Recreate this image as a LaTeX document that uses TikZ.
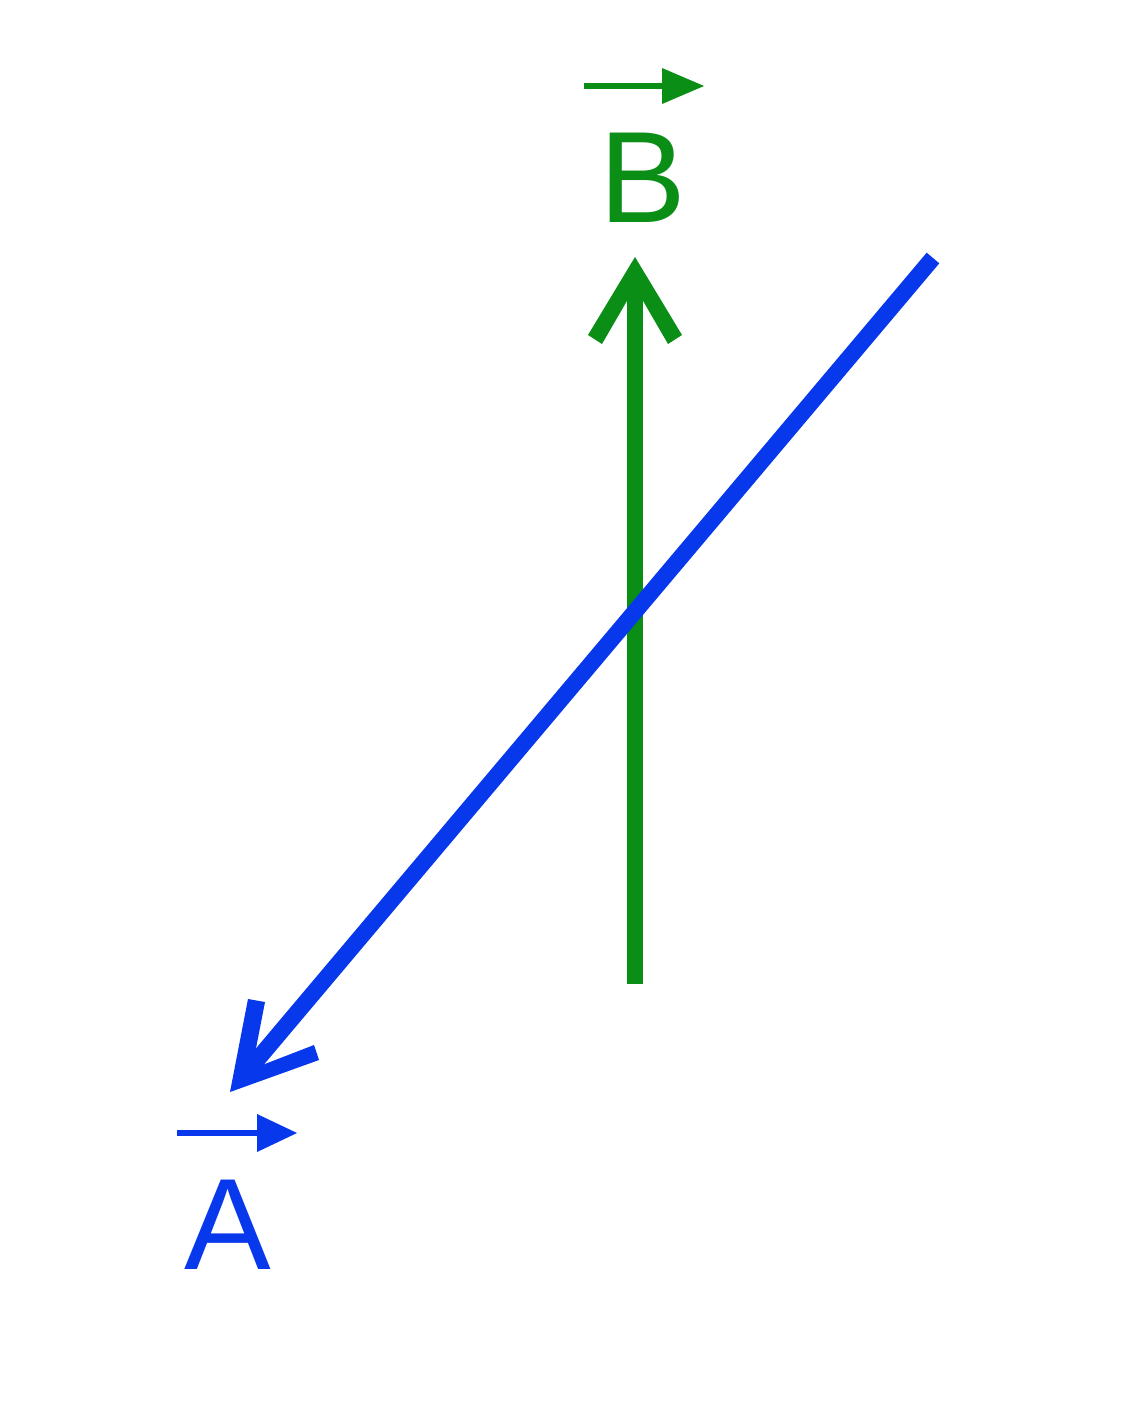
\documentclass[tikz,border=0pt]{standalone}
\usepackage{fontspec}
\setmainfont{Liberation Sans}
\definecolor{vgreen}{RGB}{10,142,22}
\definecolor{vblue}{RGB}{8,56,236}
\begin{document}
\begin{tikzpicture}[x=1pt,y=-1pt,
  lbl/.style={inner sep=0pt,font=\fontsize{130}{150}\selectfont},
  shaft/.style={line width=16.5pt,line cap=butt}]
\useasboundingbox (0,0) rectangle (1122,1402);
% green vector B
\coordinate (gbot) at (635,984);
\coordinate (gtip) at (635,257);
\coordinate (gnotch) at (635,282);
\draw[shaft,vgreen] (gbot) -- (gnotch);
\fill[vgreen] (gtip) -- (682,335) -- (668,344) -- (635,287) -- (602,344) -- (588,335) -- cycle;
% blue vector A
\coordinate (btop) at (933,258);
\coordinate (btip) at (230,1092);
\coordinate (bnotch) at (246,1073);
\draw[shaft,vblue] (btop) -- (bnotch);
\fill[vblue] (btip) -- (248,999) -- (265,1002) -- (252,1069) -- (314,1045) -- (319,1060) -- cycle;
% labels
\node[lbl,text=vgreen,anchor=base] (B) at (643,222) {B};
\node[lbl,text=vblue,anchor=base] (A) at (228,1269) {A};
% over-arrows
\coordinate (Bs) at (584,86);
\coordinate (Bh) at (664,86);
\draw[vgreen,line width=6pt] (Bs) -- (Bh);
\fill[vgreen] (704,86) -- (662,104) -- (662,68) -- cycle;
\coordinate (As) at (177,1133);
\coordinate (Ah) at (259,1133);
\draw[vblue,line width=6pt] (As) -- (Ah);
\fill[vblue] (297,1133) -- (257,1152) -- (257,1114) -- cycle;
\end{tikzpicture}
\end{document}
